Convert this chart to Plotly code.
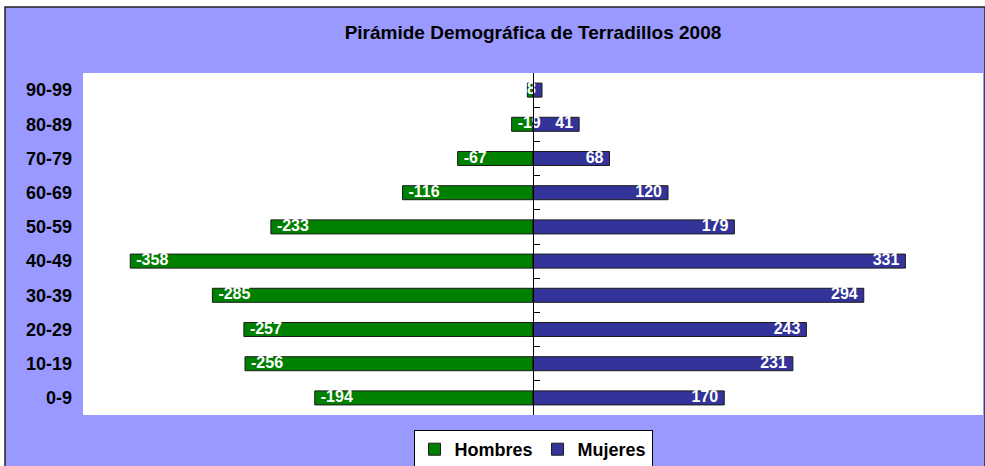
import plotly.graph_objects as go

categories = ["0-9", "10-19", "20-29", "30-39", "40-49", "50-59", "60-69", "70-79", "80-89", "90-99"]
hombres = [-194, -256, -257, -285, -358, -233, -116, -67, -19, -5]
mujeres = [170, 231, 243, 294, 331, 179, 120, 68, 41, 8]
hombres_labels = ["-194", "-256", "-257", "-285", "-358", "-233", "-116", "-67", "-19", ""]
mujeres_labels = ["170", "231", "243", "294", "331", "179", "120", "68", "41", "8"]
title_text = "Pirámide Demográfica de Terradillos 2008"

W, H = 985, 466
ML, MR, MT, MB = 83, 2, 73, 51
PW, PH = W - ML - MR, H - MT - MB

def px_x(p):
    return (p - ML) / PW

def px_y(p):
    return (H - MB - p) / PH

FONT = "Liberation Sans, Arial, sans-serif"
label_font = dict(family=FONT, size=16, color="white")

fig = go.Figure()
fig.add_trace(go.Bar(
    name="<b>Hombres</b>", y=categories, x=hombres, orientation="h",
    marker=dict(color="#008000", line=dict(color="#1a1a1a", width=1)),
    hoverinfo="skip",
))
fig.add_trace(go.Bar(
    name="<b>Mujeres</b>", y=categories, x=mujeres, orientation="h",
    marker=dict(color="#333399", line=dict(color="#1a1a1a", width=1)),
    hoverinfo="skip",
))
# value labels, drawn on top of both bar series (invisible markers give padding)
fig.add_trace(go.Scatter(
    y=categories, x=hombres, mode="markers+text",
    text=["<b>%s</b>" % t if t else "" for t in hombres_labels],
    marker=dict(size=8, opacity=0), textposition="middle right", textfont=label_font,
    showlegend=False, hoverinfo="skip", cliponaxis=False,
))
fig.add_trace(go.Scatter(
    y=categories, x=mujeres, mode="markers+text",
    text=["<b>%s</b>" % t for t in mujeres_labels],
    marker=dict(size=8, opacity=0), textposition="middle left", textfont=label_font,
    showlegend=False, hoverinfo="skip", cliponaxis=False,
))
# invisible trace used only to carry the central category axis
fig.add_trace(go.Scatter(
    y=categories, x=[0] * len(categories), yaxis="y2", mode="markers",
    marker=dict(opacity=0), showlegend=False, hoverinfo="skip",
))

fig.update_layout(
    width=W, height=H,
    margin=dict(l=ML, r=MR, t=MT, b=MB, autoexpand=False),
    paper_bgcolor="white", plot_bgcolor="rgba(0,0,0,0)",
    barmode="relative", bargap=0.59,
    font=dict(family=FONT, color="black"),
    title=dict(text="<b>" + title_text + "</b>", x=(ML + PW / 2) / W, xanchor="center",
               y=1 - 32 / H, yanchor="middle", font=dict(size=19, family=FONT, color="black")),
    xaxis=dict(range=[-400, 400], showticklabels=False, showgrid=False, zeroline=False,
               showline=False, ticks="", fixedrange=True),
    yaxis=dict(type="category", categoryorder="array", categoryarray=categories,
               range=[-0.5, len(categories) - 0.5], showgrid=False, zeroline=False,
               showline=False, ticks="", ticklabelstandoff=10,
               tickfont=dict(size=18, family=FONT, color="black"), tickprefix="<b>", ticksuffix="</b>"),
    yaxis2=dict(type="category", categoryorder="array", categoryarray=categories,
                range=[-0.5, len(categories) - 0.5], overlaying="y", anchor="free", position=0.5,
                side="left", showgrid=False, zeroline=False, showline=True, linecolor="black",
                linewidth=1, ticks="inside", tickson="boundaries", ticklen=6, tickcolor="black",
                showticklabels=False, layer="above traces"),
    legend=dict(orientation="h", x=0.5, xanchor="center", y=px_y(430), yanchor="top",
                bgcolor="white", bordercolor="black", borderwidth=1,
                font=dict(size=18, family=FONT, color="black"), itemwidth=30,
                traceorder="normal", itemclick=False, itemdoubleclick=False),
    shapes=[
        dict(type="rect", xref="paper", yref="paper", layer="below",
             x0=px_x(5), x1=px_x(985), y0=px_y(468), y1=px_y(7),
             fillcolor="#9999FF", line=dict(color="#222222", width=1.5)),
        dict(type="rect", xref="paper", yref="paper", layer="below",
             x0=0, x1=1, y0=0, y1=1, fillcolor="white", line=dict(width=0)),
    ],
)

fig.write_html("out.html", config={"displayModeBar": False},
               post_script="document.body.style.margin='0';document.body.style.padding='0';")
